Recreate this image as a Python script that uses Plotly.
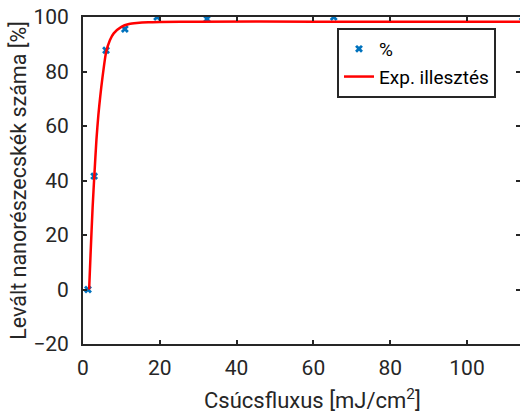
import plotly.graph_objects as go

# Measured data
flux = [1.3, 2.9, 6.0, 10.9, 19.3, 32.3, 65.3, 114.5]
percent = [0, 41.6, 87.8, 95.6, 100, 99.3, 100, 100]

# Exponential fit curve
fit_x = [1.6, 2.0, 2.5, 3.0, 3.5, 4.0, 4.5, 5.0, 6.0, 7.0, 8.0, 10.0, 12.0, 14.0, 17.0, 20.0, 30.0, 60.0, 120.0]
fit_y = [0, 14, 30, 43, 55, 64, 71, 77, 87, 91.5, 94, 96.4, 97.4, 97.8, 98.1, 98.2, 98.3, 98.3, 98.3]

x_ticks = [0, 20, 40, 60, 80, 100]
y_ticks = [-20, 0, 20, 40, 60, 80, 100]

AX = "#262626"
FONT = "Roboto"

fig = go.Figure()
fig.add_trace(go.Scatter(
    x=flux, y=percent, mode="markers", name="%",
    marker=dict(symbol="x", size=7, color="#0072BD", line=dict(width=0)),
))
fig.add_trace(go.Scatter(
    x=fit_x, y=fit_y, mode="lines", name="Exp. illesztés",
    line=dict(color="#FF0000", width=2.5, shape="spline", smoothing=0.6),
))
# right-side ticks only (no line)
fig.add_trace(go.Scatter(x=[None], y=[None], yaxis="y2", showlegend=False, hoverinfo="skip"))

W, H = 520, 415
L, R, T, B = 83, 0, 17, 71
fig.update_layout(
    width=W, height=H,
    margin=dict(l=L, r=R, t=T, b=B),
    paper_bgcolor="white", plot_bgcolor="white",
    font=dict(family=FONT, color=AX, size=21),
    showlegend=True,
    legend=dict(
        x=(337 - L) / (W - L - R), y=(H - B - 28) / (H - T - B),
        xanchor="left", yanchor="top",
        bgcolor="white", bordercolor=AX, borderwidth=2,
        font=dict(family=FONT, size=19, color="#000000"),
        tracegroupgap=0,
    ),
    xaxis=dict(
        range=[0, (W - L - R) / 3.84], tickvals=x_ticks,
        showgrid=False, zeroline=False,
        showline=True, linecolor=AX, linewidth=2, mirror="ticks",
        ticks="inside", ticklen=4, tickwidth=1.5, tickcolor=AX,
        tickfont=dict(size=21, color=AX), ticklabelstandoff=4,
    ),
    yaxis=dict(
        range=[-20, 100], tickvals=y_ticks,
        showgrid=False, zeroline=False,
        showline=True, linecolor=AX, linewidth=2, mirror=False,
        ticks="inside", ticklen=4, tickwidth=1.5, tickcolor=AX,
        tickfont=dict(size=21, color=AX), ticklabelstandoff=8,
        title=dict(text="Levált nanorészecskék száma [%]", font=dict(size=21.5, color=AX), standoff=1),
    ),
    yaxis2=dict(
        overlaying="y", side="right", range=[-20, 100], tickvals=y_ticks,
        showgrid=False, zeroline=False, showline=False, showticklabels=False,
        ticks="inside", ticklen=4, tickwidth=1.5, tickcolor=AX,
    ),
    annotations=[dict(
        text="Csúcsfluxus [mJ/cm<sup>2</sup>]", xref="paper", yref="paper",
        x=(312 - L) / (W - L - R), y=-(399 - (H - B)) / (H - T - B),
        xanchor="center", yanchor="middle", showarrow=False,
        font=dict(size=22, color=AX, family=FONT),
    )],
)

fig.write_html("out.html")
